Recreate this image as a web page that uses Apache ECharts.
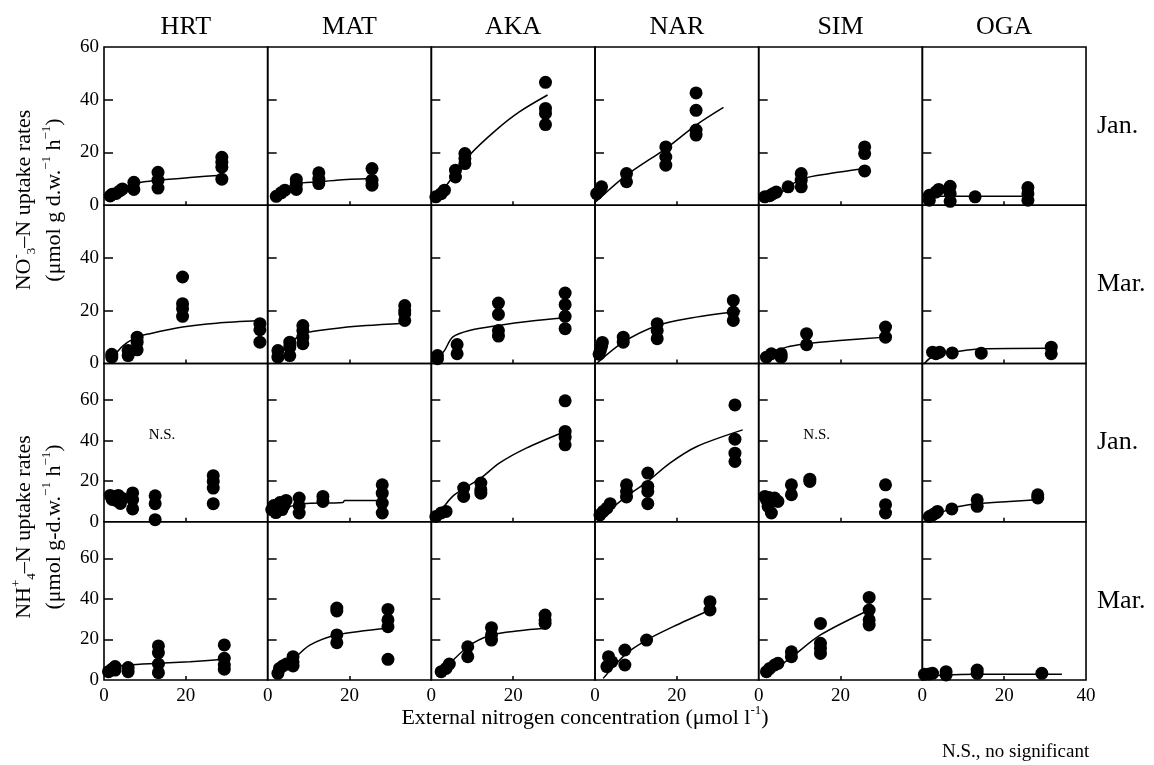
<!DOCTYPE html>
<html>
<head>
<meta charset="utf-8">
<script src="https://cdn.jsdelivr.net/npm/echarts@6.0.0/dist/echarts.min.js"></script>
<style>html,body{margin:0;padding:0;background:#fff}#main{width:1154px;height:765px}</style>
</head>
<body>
<div id="main"></div>
<script>
// stations (columns) and months (rows)
var stations = ['HRT', 'MAT', 'AKA', 'NAR', 'SIM', 'OGA'];
var months = ['Jan.', 'Mar.', 'Jan.', 'Mar.'];
var yMax = [60, 60, 78, 78];
var yTicks = [[20, 40], [20, 40], [20, 40, 60], [20, 40, 60]];
var yLabels = [[0, 20, 40, 60], [0, 20, 40], [0, 20, 40, 60], [0, 20, 40, 60]];
var nsPanels = [[2, 0], [2, 4]]; // row, col without significant fit

// NO3- uptake, January: measured points per station
var no3JanPts = [
  [[1.5,3.5],[2,4.2],[3,4.5],[3.9,5.5],[4.5,6.2],[7.3,8.7],[7.3,6],[13.2,12.5],[13.2,9.5],[13.2,6.5],[28.8,18.2],[28.8,16.3],[28.8,14.4],[28.8,9.9]],
  [[2.1,3.4],[3.3,4.7],[4.2,5.7],[7,9.8],[7,8],[7,6],[12.5,12.3],[12.5,9.9],[12.5,8.2],[25.5,13.9],[25.5,9.5],[25.5,7.6]],
  [[1.1,3.2],[2.4,4.4],[3.2,5.7],[5.9,13.3],[5.9,10.7],[8.2,19.6],[8.2,17.7],[8.2,15.8],[27.9,46.6],[27.9,36.7],[27.9,34.8],[27.9,30.6]],
  [[0.4,4.4],[1.2,5.7],[1.6,7],[7.7,12],[7.7,8.9],[17.3,22.1],[17.3,18.3],[17.3,15.2],[24.7,42.6],[24.7,36],[24.7,28.5],[24.7,26.6]],
  [[1.5,3.2],[2.7,3.6],[3.5,4.4],[4.3,5],[7.2,7],[10.4,12],[10.4,9.5],[10.4,7],[25.9,22.1],[25.9,19.6],[25.9,13]],
  [[1.7,1.9],[1.7,3.8],[3.3,5],[4,6],[6.8,7.2],[6.8,4.4],[6.8,1.5],[12.9,3.2],[25.8,6.7],[25.8,4.4],[25.8,1.9]]
];
var no3JanFit = [
  [[1.5,3],[4,6],[8,8.4],[13.2,9.5],[21.8,10.6],[28.8,11.4]],
  [[2.1,3.2],[4.5,6.5],[7,8.2],[12.5,8.9],[16.8,9.5],[25.5,10.1]],
  [[0.7,1.3],[5.2,10.7],[9.3,19],[15.8,28.5],[21.5,35.4],[28.4,41.8]],
  [[0.2,1.3],[7.7,11.4],[17.3,21.5],[24.7,30.4],[31.4,37.1]],
  [[1,2.5],[5.1,4.4],[7.2,7],[10.8,10.1],[17.4,12],[25.9,13.9]],
  [[1.7,3],[3.3,3.4],[12.9,3.4],[25.8,3.4]]
];

// NO3- uptake, March
var no3MarPts = [
  [[1.9,2.4],[1.9,3.5],[5.9,4.9],[5.9,3],[8.1,10],[8.1,8.1],[8.1,5.2],[19.2,32.8],[19.2,22.7],[19.2,20.8],[19.2,17.9],[38.1,15.1],[38.1,12.8],[38.1,8.1]],
  [[2.5,4.9],[2.5,2.4],[5.4,8.1],[5.4,6.2],[5.4,3],[8.6,14.4],[8.6,12.5],[8.6,10],[8.6,7.5],[33.5,22],[33.5,20.1],[33.5,18.9],[33.5,16.3]],
  [[1.5,3],[1.5,1.8],[6.3,7.2],[6.3,3.7],[16.4,22.9],[16.4,18.6],[16.4,12.5],[16.4,10.4],[32.7,26.7],[32.7,22.3],[32.7,17.9],[32.7,13.2]],
  [[1,3.5],[1.3,5],[1.6,6.5],[1.8,8],[6.9,10],[6.9,8.1],[15.2,15.1],[15.2,12.5],[15.2,9.4],[33.8,23.9],[33.8,19.5],[33.8,16.3]],
  [[1.9,2.4],[3.1,3.7],[5.5,3.7],[5.5,2.4],[11.7,11.3],[11.7,7.1],[31,13.8],[31,10]],
  [[2.5,4.3],[3.3,3.7],[4.2,4.3],[7.3,4],[14.4,3.9],[31.5,6.2],[31.5,3.7]]
];
var no3MarFit = [
  [[1.5,1.1],[4.7,6.8],[8.1,10],[11.2,11.3],[19.2,13.8],[27.5,15.3],[38.1,16.3]],
  [[2.1,2.4],[5.4,7.5],[8.6,11.3],[16,13.2],[24.1,14.4],[33.5,15.3]],
  [[0.7,0.5],[3.2,4.9],[5.2,10],[9.3,12.5],[16.4,14.4],[24,16],[32.7,17.3]],
  [[0.4,0],[6.9,8.1],[15.2,14.4],[22.4,17],[35.5,19.9]],
  [[2.7,3.7],[6.8,6.2],[11.7,7.5],[19.8,8.7],[31,10]],
  [[0.5,0],[1.7,1.8],[4.2,3.7],[7.3,4.3],[14.4,5.6],[31.5,5.8]]
];

// NH4+ uptake, January
var nh4JanPts = [
  [[1.5,13],[2,11],[2.5,12.5],[3,10.5],[3.5,13],[4,9],[4.5,11.5],[7,14.2],[7,10.9],[7,6.3],[12.5,12.8],[12.5,8.9],[12.5,1],[26.7,22.7],[26.7,19.9],[26.7,16.6],[26.7,8.9]],
  [[1,6],[1.5,8],[2,4.5],[2.5,7],[3,9.5],[3.5,6],[4,8],[4.5,10.5],[7.7,11.7],[7.7,7.9],[7.7,4.3],[13.5,12.5],[13.5,10],[28,18.2],[28,14.1],[28,9.2],[28,4.3]],
  [[1.1,2.6],[2.4,4.3],[3.6,5.1],[7.9,16.6],[7.9,12.5],[12.1,19.1],[12.1,15.8],[12.1,14.1],[32.7,59.6],[32.7,44.5],[32.7,41.7],[32.7,37.9]],
  [[1.2,3.4],[2,5.1],[2.9,6.7],[3.7,8.9],[7.7,18.2],[7.7,14.9],[7.7,12.2],[12.9,24],[12.9,17.4],[12.9,14.9],[12.9,8.9],[34.2,57.6],[34.2,40.7],[34.2,33.8],[34.2,29.7]],
  [[1.5,12.5],[1.9,10.8],[2.3,7.6],[2.5,12],[3.1,4.3],[3.9,11.7],[4.7,10],[8,18.2],[8,13.3],[12.5,19.9],[12.5,21],[31,18.2],[31,8.4],[31,4.3]],
  [[1.7,2.6],[2.5,3.4],[3.3,4.3],[3.7,5.1],[7.2,6.3],[13.4,10.8],[13.4,7.6],[28.2,13.3],[28.2,11.7]]
];
var nh4JanFit = [
  null,
  [[0.9,5.9],[5.4,7.5],[8.6,8.9],[18.4,9.5],[18.8,10.5],[28,10.5]],
  [[0.7,0.2],[5.2,12.5],[12.1,21.5],[16.6,28.9],[23.2,36.3],[32.7,44.5]],
  [[1.2,1.8],[7.7,12.5],[12.9,19.9],[18.3,28.9],[24.9,37.1],[36.1,45.3]],
  null,
  [[1.3,1],[7.2,6.7],[13.4,8.9],[21.3,10],[28,10.8]]
];

// NH4+ uptake, March
var nh4MarPts = [
  [[1.1,4.1],[1.9,5.3],[2.7,4.9],[2.7,6.6],[5.9,6.1],[5.9,4.1],[13.3,16.8],[13.3,13.5],[13.3,7.9],[13.3,3.6],[29.4,17.3],[29.4,10.7],[29.4,7.4],[29.4,5.3]],
  [[2.5,3.3],[2.9,5.7],[3.7,6.9],[4.6,7.9],[6.2,11.5],[6.2,9],[6.2,6.9],[16.9,35.5],[16.9,34],[16.9,22.2],[16.9,18.4],[29.4,34.8],[29.4,29.6],[29.4,26.3],[29.4,10.2]],
  [[2.4,4.1],[3.6,5.7],[4.4,7.9],[8.9,16.4],[8.9,11.5],[14.7,25.8],[14.7,22.2],[14.7,19.7],[27.8,32],[27.8,29.6],[27.8,27.9]],
  [[2.9,6.6],[3.3,11.5],[4.1,9],[7.3,14.8],[7.3,7.4],[12.6,19.7],[28.1,38.6],[28.1,34.5]],
  [[1.9,4.1],[2.7,5.7],[3.9,7.4],[4.7,8.2],[8,13.9],[8,11.5],[15.1,27.9],[15.1,18.1],[15.1,15.6],[15.1,13.1],[27,40.7],[27,34.5],[27,29.6],[27,27.1]],
  [[0.5,2.8],[1.7,3],[2.5,3.3],[5.8,4.1],[5.8,2.5],[13.4,4.9],[13.4,3.3],[29.2,3.3]]
];
var nh4MarFit = [
  [[0.7,3.3],[2.7,6.6],[5.9,7.4],[13.3,8.2],[21,9],[29.4,10.2]],
  [[2.1,1.6],[6.2,9.9],[10.3,17.2],[16.9,22.2],[29.4,25.5]],
  [[1.5,1.6],[8.9,16.4],[14.7,22.2],[21.5,24.3],[27.8,25.5]],
  [[2,0.8],[7.7,13.1],[12.6,19.7],[19.1,26.3],[28.1,34.5]],
  [[1.5,1.6],[8.2,11.5],[15.1,22.2],[27,34.5]],
  [[0.1,1.6],[5.8,2.5],[13.4,2.8],[29.2,2.8],[34.1,2.8]]
];

var rowPts = [no3JanPts, no3MarPts, nh4JanPts, nh4MarPts];
var rowFit = [no3JanFit, no3MarFit, nh4JanFit, nh4MarFit];

var FONT = '"Liberation Serif", "Times New Roman", serif';
var L = 104, T = 47, W = 163.67, H = 158.25;

var grids = [], xAxes = [], yAxes = [], series = [];
for (var r = 0; r < 4; r++) {
  for (var c = 0; c < 6; c++) {
    var g = grids.length;
    grids.push({
      left: L + c * W, top: T + r * H, width: W, height: H,
      show: true, borderColor: '#000', borderWidth: 1.6
    });
    xAxes.push({
      type: 'value', gridIndex: g, min: 0, max: 40,
      axisLine: { show: false }, splitLine: { show: false },
      axisTick: { inside: true, length: 4, customValues: [20], lineStyle: { color: '#000', width: 1.5 } },
      axisLabel: {
        show: r === 3, customValues: c === 5 ? [0, 20, 40] : [0, 20],
        color: '#000', fontFamily: FONT, fontSize: 19, margin: 7
      }
    });
    yAxes.push({
      type: 'value', gridIndex: g, min: 0, max: yMax[r],
      axisLine: { show: false }, splitLine: { show: false },
      axisTick: { inside: true, length: 9, customValues: yTicks[r], lineStyle: { color: '#000', width: 1.5 } },
      axisLabel: {
        show: c === 0, customValues: yLabels[r],
        color: '#000', fontFamily: FONT, fontSize: 19, margin: 5
      }
    });
    series.push({
      type: 'scatter', xAxisIndex: g, yAxisIndex: g,
      data: rowPts[r][c], symbol: 'circle', symbolSize: 13,
      itemStyle: { color: '#000', opacity: 1 }
    });
    if (rowFit[r][c]) {
      series.push({
        type: 'line', xAxisIndex: g, yAxisIndex: g,
        data: rowFit[r][c], showSymbol: false, smooth: 0.3,
        lineStyle: { color: '#000', width: 1.5 }
      });
    }
  }
}

var rich = {
  m: { fontSize: 22, fontFamily: FONT, lineHeight: 28, verticalAlign: 'middle' },
  sup: { fontSize: 13, fontFamily: FONT, lineHeight: 14, verticalAlign: 'top' },
  sub: { fontSize: 13, fontFamily: FONT, lineHeight: 14, verticalAlign: 'bottom' }
};

var graphic = [];
stations.forEach(function (s, c) {
  graphic.push({ type: 'text', x: L + c * W + W / 2, y: 27,
    style: { text: s, font: '26px ' + FONT, fill: '#000', align: 'center', verticalAlign: 'middle' } });
});
months.forEach(function (m, r) {
  graphic.push({ type: 'text', x: 1097, y: T + r * H + H / 2,
    style: { text: m, font: '26px ' + FONT, fill: '#000', align: 'left', verticalAlign: 'middle' } });
});
nsPanels.forEach(function (p) {
  graphic.push({ type: 'text', x: L + p[1] * W + 58, y: T + p[0] * H + 72,
    style: { text: 'N.S.', font: '15px ' + FONT, fill: '#000', align: 'center', verticalAlign: 'middle' } });
});
function rotText(x, y, txt) {
  graphic.push({ type: 'text', x: x, y: y, rotation: Math.PI / 2,
    style: { text: txt, rich: rich, fill: '#000', align: 'center', verticalAlign: 'middle' } });
}
rotText(24, 200, '{m|NO}{sup|-}{sub|3}{m|–N uptake rates}');
rotText(54, 200, '{m|(μmol g d.w.}{sup|−1}{m| h}{sup|−1}{m|)}');
rotText(24, 527, '{m|NH}{sup|+}{sub|4}{m|–N uptake rates}');
rotText(54, 527, '{m|(μmol g-d.w.}{sup|−1}{m| h}{sup|−1}{m|)}');
graphic.push({ type: 'text', x: 585, y: 718,
  style: { text: '{m|External nitrogen concentration (μmol l}{sup|-1}{m|)}', rich: rich, fill: '#000', align: 'center', verticalAlign: 'middle' } });
graphic.push({ type: 'text', x: 942, y: 752,
  style: { text: 'N.S., no significant', font: '19px ' + FONT, fill: '#000', align: 'left', verticalAlign: 'middle' } });

var chart = echarts.init(document.getElementById('main'));
chart.setOption({
  animation: false,
  backgroundColor: '#fff',
  grid: grids,
  xAxis: xAxes,
  yAxis: yAxes,
  series: series,
  graphic: graphic
});
</script>
</body>
</html>
